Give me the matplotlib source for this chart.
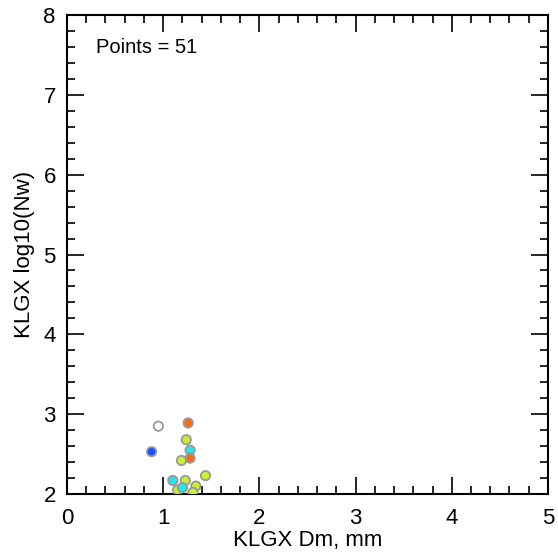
import matplotlib
matplotlib.use("Agg")
import matplotlib.pyplot as plt
from matplotlib.ticker import MultipleLocator

plt.rcParams['font.family'] = ['Liberation Sans', 'DejaVu Sans']

# visible points (Dm in mm, log10 Nw)
dm = [0.95, 1.26, 0.88, 1.24, 1.28, 1.28, 1.19, 1.10, 1.23, 1.44, 1.15, 1.20, 1.34, 1.31]
lognw = [2.85, 2.89, 2.53, 2.68, 2.55, 2.45, 2.42, 2.17, 2.17, 2.23, 2.05, 2.08, 2.10, 2.02]
colors = ['white', '#ff6a10', '#1a50ff', '#c8f032', '#20e8f0', '#ff6a10', '#c8f032',
          '#20e8f0', '#c8f032', '#c8f032', '#c8f032', '#20e8f0', '#c8f032', '#c8f032']
n_points = 51

fig = plt.figure(figsize=(5.58, 5.56), dpi=100)
ax = fig.add_axes([0.12, 0.1115, 0.862, 0.8615])
ax.scatter(dm, lognw, c=colors, s=45, edgecolors='#999999', linewidths=1.3, zorder=3)

ax.set_xlim(0, 5)
ax.set_ylim(2, 8)
ax.xaxis.set_major_locator(MultipleLocator(1))
ax.xaxis.set_minor_locator(MultipleLocator(0.2))
ax.yaxis.set_major_locator(MultipleLocator(1))
ax.yaxis.set_minor_locator(MultipleLocator(0.2))
ax.tick_params(which='both', direction='in', top=True, right=True, labelsize=16, width=1.2)
ax.tick_params(which='major', length=12)
ax.tick_params(axis='x', which='major', pad=10)
ax.tick_params(axis='y', which='major', pad=8)
ax.tick_params(which='minor', length=6)
for s in ax.spines.values():
    s.set_linewidth(1.5)

ax.set_xlabel('KLGX Dm, mm', fontsize=16, labelpad=1)
ax.set_ylabel('KLGX log10(Nw)', fontsize=16, labelpad=6)
ax.text(0.30, 7.59, 'Points = %d' % n_points, fontsize=14.5, va='center')

fig.savefig('out.png', dpi=100)
